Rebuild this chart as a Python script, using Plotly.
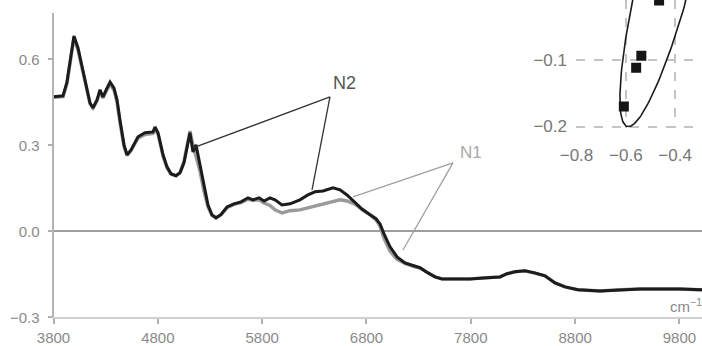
import numpy as np
import plotly.graph_objects as go

# ---------------- data ----------------
wavenumber = [3800, 3891, 3929, 3968, 3996, 4035, 4083, 4150, 4179, 4217, 4246, 4274, 4313, 4342,
              4380, 4409, 4437, 4476, 4505, 4543, 4610, 4677, 4754, 4773, 4802, 4850, 4888, 4926,
              4974, 5013, 5051, 5089, 5108, 5137, 5166, 5204, 5242, 5281, 5319, 5358, 5405, 5463,
              5530, 5597, 5664, 5712, 5770, 5818, 5875, 5923, 5990, 6067, 6162, 6239, 6306, 6383,
              6479, 6546, 6613, 6690, 6757, 6834, 6891, 6930, 6968, 7026, 7093, 7169, 7246, 7313,
              7390, 7457, 7524, 7648, 7792, 7955, 8080, 8147, 8223, 8319, 8415, 8511, 8607, 8703,
              8828, 9038, 9230, 9422, 9614, 9805, 9997, 10016]

n2_absorbance = [0.470, 0.473, 0.521, 0.616, 0.682, 0.640, 0.563, 0.448, 0.431, 0.459, 0.494, 0.469,
                 0.500, 0.521, 0.500, 0.459, 0.389, 0.302, 0.267, 0.284, 0.330, 0.344, 0.347, 0.364,
                 0.344, 0.267, 0.225, 0.201, 0.194, 0.204, 0.239, 0.302, 0.344, 0.277, 0.302, 0.232,
                 0.162, 0.092, 0.058, 0.047, 0.058, 0.085, 0.096, 0.103, 0.117, 0.110, 0.117, 0.106,
                 0.117, 0.110, 0.092, 0.096, 0.110, 0.127, 0.138, 0.141, 0.152, 0.145, 0.127, 0.099,
                 0.078, 0.058, 0.044, 0.026, -0.009, -0.054, -0.089, -0.110, -0.120, -0.127, -0.145,
                 -0.159, -0.166, -0.166, -0.166, -0.162, -0.159, -0.148, -0.141, -0.138, -0.145,
                 -0.155, -0.180, -0.194, -0.204, -0.208, -0.204, -0.201, -0.201, -0.201, -0.204, -0.204]

n1_absorbance = [0.468, 0.470, 0.515, 0.610, 0.675, 0.632, 0.555, 0.445, 0.430, 0.455, 0.488, 0.465,
                 0.495, 0.512, 0.492, 0.450, 0.380, 0.295, 0.265, 0.282, 0.325, 0.338, 0.342, 0.356,
                 0.338, 0.262, 0.222, 0.200, 0.194, 0.206, 0.245, 0.310, 0.350, 0.300, 0.265, 0.210,
                 0.140, 0.085, 0.055, 0.047, 0.058, 0.082, 0.094, 0.100, 0.112, 0.108, 0.110, 0.099,
                 0.090, 0.075, 0.064, 0.072, 0.075, 0.082, 0.089, 0.097, 0.105, 0.110, 0.106, 0.095,
                 0.076, 0.058, 0.040, 0.018, -0.025, -0.070, -0.098, -0.112, -0.122, -0.128, -0.145,
                 -0.159, -0.166, -0.166, -0.166, -0.162, -0.159, -0.148, -0.141, -0.138, -0.145,
                 -0.155, -0.180, -0.194, -0.204, -0.208, -0.204, -0.201, -0.201, -0.201, -0.204, -0.204]

x_tick_values = [3800, 4800, 5800, 6800, 7800, 8800, 9800]
x_tick_labels = ["3800", "4800", "5800", "6800", "7800", "8800", "9800"]
y_tick_values = [-0.3, 0.0, 0.3, 0.6]

# inset score plot (PC scores)
score_pc1 = [-0.608, -0.537, -0.558, -0.465]
score_pc2 = [-0.170, -0.094, -0.112, -0.011]
inset_x_ticks = [-0.8, -0.6, -0.4]
inset_y_ticks = [-0.2, -0.1]

# confidence ellipse parameters (centre, major and minor half-axis vectors)
ellipse_center = (-0.424, 0.049)
ellipse_major = (-0.170, -0.249)
ellipse_minor = (0.105, -0.0099)

# annotation leader lines (data units)
n2_vertex = (6450, 0.469)
n2_targets = [(5137, 0.291), (6278, 0.145)]
n1_vertex = (7629, 0.239)
n1_targets = [(6671, 0.120), (7150, -0.065)]

# ---------------- figure ----------------
W, H = 702, 346
FONT = "Liberation Sans, Arial, sans-serif"

fig = go.Figure()

fig.add_trace(go.Scatter(x=wavenumber, y=n1_absorbance, mode="lines",
                         line=dict(color="#9a9a9a", width=3.4), showlegend=False))
fig.add_trace(go.Scatter(x=wavenumber, y=n2_absorbance, mode="lines",
                         line=dict(color="#1c1c1c", width=3.0), showlegend=False))

# leader lines
for tx, ty in n2_targets:
    fig.add_trace(go.Scatter(x=[n2_vertex[0], tx], y=[n2_vertex[1], ty], mode="lines",
                             line=dict(color="#333333", width=1.3), showlegend=False))
for tx, ty in n1_targets:
    fig.add_trace(go.Scatter(x=[n1_vertex[0], tx], y=[n1_vertex[1], ty], mode="lines",
                             line=dict(color="#a0a0a0", width=1.3), showlegend=False))

# inset: ellipse + scores
t = np.linspace(0, 2 * np.pi, 200)
ex = ellipse_center[0] + ellipse_major[0] * np.cos(t) + ellipse_minor[0] * np.sin(t)
ey = ellipse_center[1] + ellipse_major[1] * np.cos(t) + ellipse_minor[1] * np.sin(t)
fig.add_trace(go.Scatter(x=ex, y=ey, mode="lines", xaxis="x2", yaxis="y2",
                         line=dict(color="#1a1a1a", width=1.6), showlegend=False))
fig.add_trace(go.Scatter(x=score_pc1, y=score_pc2, mode="markers", xaxis="x2", yaxis="y2",
                         marker=dict(symbol="square", size=10, color="#151515"),
                         showlegend=False))

x0_px, y_top_px, y_bot_px = 53.5, 13, 317.3
fig.update_layout(
    width=W, height=H,
    margin=dict(l=0, r=0, t=0, b=0, autoexpand=False),
    paper_bgcolor="white", plot_bgcolor="rgba(0,0,0,0)",
    font=dict(family=FONT),
    xaxis=dict(domain=[x0_px / W, 1], range=[3800, 10016], tickvals=x_tick_values,
               ticktext=x_tick_labels,
               showline=True, linecolor="#cfcfcf", linewidth=2,
               ticks="outside", ticklen=5, tickcolor="#b0b0b0", tickwidth=1.5,
               tickfont=dict(size=15, color="#8a8a8a"), showgrid=False, zeroline=False,
               anchor="y", ticklabelstandoff=1),
    yaxis=dict(domain=[1 - y_bot_px / H, 1 - y_top_px / H], range=[-0.3, 0.762],
               tickvals=y_tick_values, tickformat=".1f",
               showline=True, linecolor="#b4b4b4", linewidth=2,
               ticks="outside", ticklen=4, tickcolor="#b0b0b0", tickwidth=1.5,
               tickfont=dict(size=15, color="#8a8a8a"), showgrid=False,
               zeroline=True, zerolinecolor="#9e9e9e", zerolinewidth=1.6,
               anchor="x", ticklabelstandoff=5),
    xaxis2=dict(domain=[576 / W, 1], range=[-0.802, -0.291], tickvals=inset_x_ticks,
                anchor="y2", showline=False, ticks="", showgrid=True, gridcolor="#c4c4c4",
                griddash="dash", gridwidth=1.5, zeroline=False,
                tickfont=dict(size=17, color="#777777"), ticklabelstandoff=15,
                tickformat=".1f"),
    yaxis2=dict(domain=[1 - 127.5 / H, 1], range=[-0.2015, -0.0104], tickvals=inset_y_ticks,
                anchor="x2", showline=False, ticks="", showgrid=True, gridcolor="#c4c4c4",
                griddash="dash", gridwidth=1.5, zeroline=False,
                tickfont=dict(size=17, color="#777777"), ticklabelstandoff=8,
                tickformat=".1f"),
    annotations=[
        dict(text="N2", x=6594, y=0.518, xref="x", yref="y", showarrow=False,
             font=dict(size=18, color="#555555")),
        dict(text="N1", x=7801, y=0.274, xref="x", yref="y", showarrow=False,
             font=dict(size=17, color="#a8a8a8")),
        dict(text="cm<sup>−1</sup>", x=668 / W, y=1 - 317 / H, xref="paper", yref="paper",
             xanchor="left", showarrow=False, font=dict(size=15, color="#8a8a8a")),
    ],
)

fig.write_html("out.html", config={"displayModeBar": False},
               post_script="document.body.style.margin='0';")
